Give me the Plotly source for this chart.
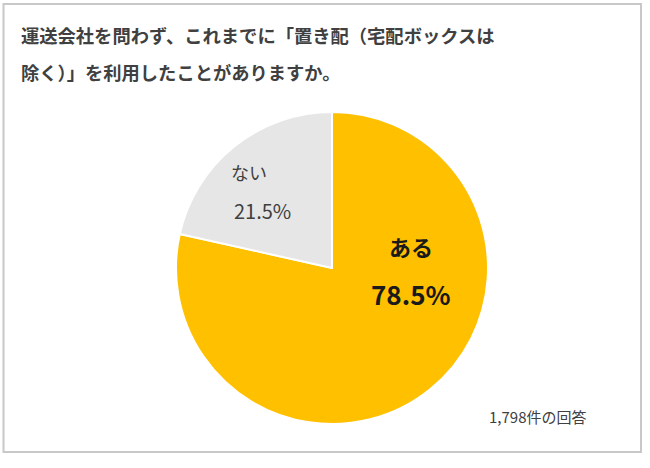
import plotly.graph_objects as go

labels = ["ある", "ない"]
values = [78.5, 21.5]
colors = ["#FFC000", "#E7E6E6"]
title_lines = ["運送会社を問わず、これまでに「置き配（宅配ボックスは", "除く）」を利用したことがありますか。"]
note = "1,798件の回答"

W, H = 650, 468
def px(x): return x / W
def py(y): return 1 - y / H

fig = go.Figure(go.Pie(
    labels=labels, values=values, sort=False, direction="clockwise", rotation=0,
    marker=dict(colors=colors, line=dict(color="white", width=2)),
    textinfo="none", hoverinfo="label+percent", showlegend=False,
    domain=dict(x=[px(176), px(488)], y=[py(424), py(112)]),
))

font = "Noto Sans CJK JP, sans-serif"
ann = []
ann.append(dict(x=px(19), y=py(35), text="<b>" + title_lines[0] + "</b>", font=dict(size=18.3, color="#404040", family=font)))
ann.append(dict(x=px(19), y=py(72), text="<b>" + title_lines[1] + "</b>", font=dict(size=18.3, color="#404040", family=font)))
for a in ann:
    a.update(xref="paper", yref="paper", xanchor="left", yanchor="middle", showarrow=False)

labs = [
    (labels[0], 411, 246, 22, True, "#1a1a1a"),
    (f"{values[0]}%", 411, 293, 26, True, "#1a1a1a"),
    (labels[1], 249, 172, 18, False, "#404040"),
    (f"{values[1]}%", 262, 211, 20, False, "#404040"),
    (note, 537, 416, 15, False, "#404040"),
]
for t, x, y, s, b, c in labs:
    ann.append(dict(x=px(x), y=py(y), xref="paper", yref="paper", showarrow=False,
                    xanchor="center", yanchor="middle",
                    text=("<b>%s</b>" % t) if b else t,
                    font=dict(size=s, color=c, family=font)))

fig.update_layout(
    width=W, height=H, margin=dict(l=0, r=0, t=0, b=0),
    paper_bgcolor="white", plot_bgcolor="white",
    annotations=ann,
    shapes=[dict(type="rect", xref="paper", yref="paper", x0=px(3.5), x1=px(641), y0=py(452), y1=py(4),
                 line=dict(color="#C8C8C8", width=2), fillcolor="rgba(0,0,0,0)", layer="below")],
)
fig.write_html("out.html")
